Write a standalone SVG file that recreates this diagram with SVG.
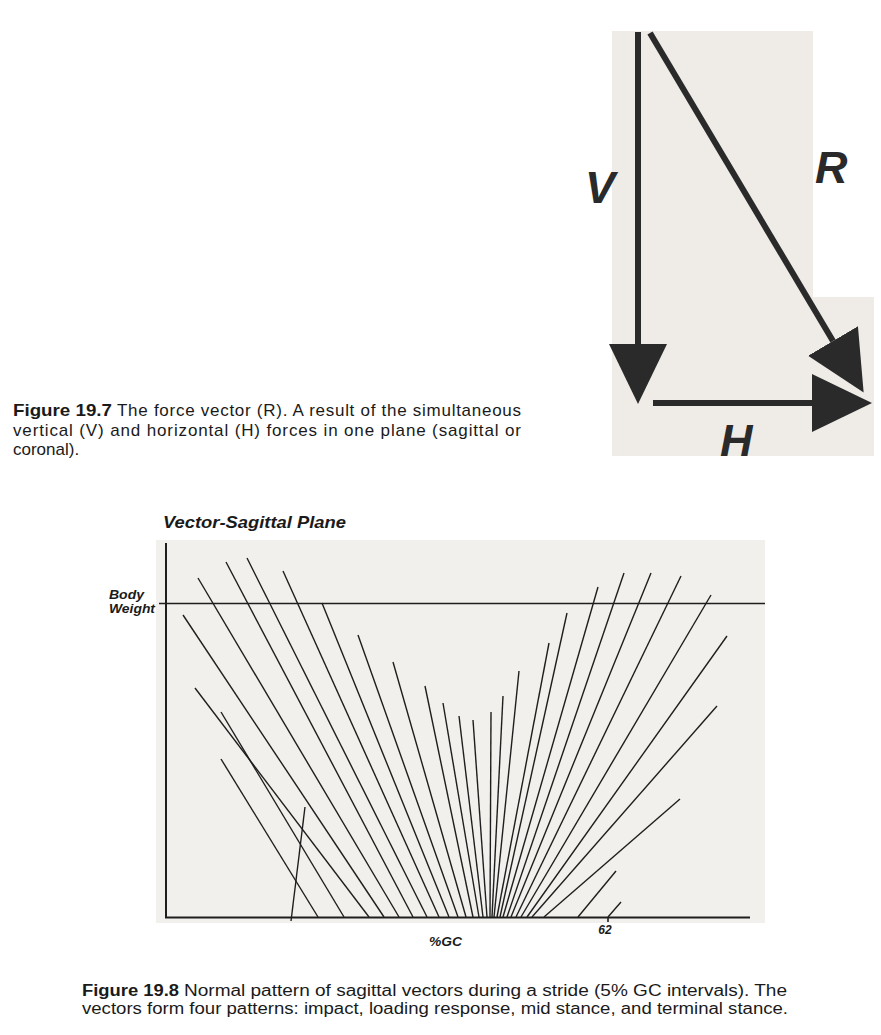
<svg xmlns="http://www.w3.org/2000/svg" width="881" height="1035" viewBox="0 0 881 1035">
<defs>
<style>
.t{font-family:"Liberation Sans",Arial,sans-serif;fill:#1a1a1a}
.b{font-weight:bold}
.bi{font-weight:bold;font-style:italic}
.big{font-family:"Liberation Sans",Arial,sans-serif;font-weight:bold;font-style:italic;font-size:45px;fill:#2a2a2a}
.shaft{stroke:#2a2a2a;stroke-width:6;fill:none;marker-end:url(#head)}
.vec{stroke:#1e1e1e;stroke-width:1.4;fill:none}
.axis{stroke:#1e1e1e;stroke-width:2;fill:none}
</style>
<marker id="head" viewBox="0 0 60 58" refX="0" refY="29" markerWidth="60" markerHeight="58" markerUnits="userSpaceOnUse" orient="auto">
<path d="M0,0 L60,29 L0,58 z" fill="#2a2a2a"/>
</marker>
</defs>
<rect width="881" height="1035" fill="#ffffff"/>

<g id="fig19-7">
<polygon points="612,31 813,31 813,297 874,297 874,456 612,456" fill="#efece8"/>
<g id="connectors-197">
<line class="shaft" x1="638" y1="32" x2="638" y2="344"/>
<line class="shaft" x1="650" y1="33" x2="833" y2="341"/>
<line class="shaft" x1="653" y1="403" x2="812" y2="403"/>
</g>
<text class="big" x="585" y="203">V</text>
<text class="big" x="815" y="183">R</text>
<text class="big" x="720" y="456">H</text>
</g>

<g id="caption-19-7" class="t" font-size="17">
<text class="t b" x="13" y="416" textLength="99" lengthAdjust="spacingAndGlyphs">Figure 19.7</text>
<text class="t" x="117" y="416" textLength="404" lengthAdjust="spacing">The force vector (R). A result of the simultaneous</text>
<text class="t" x="13" y="436" textLength="508" lengthAdjust="spacing">vertical (V) and horizontal (H) forces in one plane (sagittal or</text>
<text class="t" x="13" y="455">coronal).</text>
</g>

<g id="fig19-8">
<rect x="156" y="540" width="609" height="383" fill="#f2f0ec"/>
<text class="t bi" x="163" y="528" font-size="17" textLength="183" lengthAdjust="spacingAndGlyphs">Vector-Sagittal Plane</text>
<text class="t bi" x="109" y="599" font-size="12" textLength="35" lengthAdjust="spacingAndGlyphs">Body</text>
<text class="t bi" x="109" y="613" font-size="12" textLength="46" lengthAdjust="spacingAndGlyphs">Weight</text>
<g id="axes">
<line class="axis" x1="166" y1="543" x2="166" y2="918"/>
<line class="axis" x1="165" y1="917.5" x2="750" y2="917.5"/>
<line x1="159" y1="603.5" x2="765" y2="603.5" stroke="#1e1e1e" stroke-width="1.6"/>
<line x1="608" y1="917" x2="608" y2="922" stroke="#1e1e1e" stroke-width="1.6"/>
</g>
<text class="t bi" x="605" y="934" font-size="12" text-anchor="middle">62</text>
<text class="t bi" x="429" y="946" font-size="13" textLength="33" lengthAdjust="spacingAndGlyphs">%GC</text>
<g id="vectors" class="vec">
<line x1="305" y1="807" x2="291" y2="921"/>
<line x1="221" y1="759" x2="318" y2="917"/>
<line x1="221" y1="712" x2="344" y2="917"/>
<line x1="195" y1="688" x2="369" y2="917"/>
<line x1="183" y1="615" x2="384" y2="917"/>
<line x1="198" y1="578" x2="399" y2="917"/>
<line x1="226" y1="562" x2="413" y2="917"/>
<line x1="247" y1="558" x2="427" y2="917"/>
<line x1="283" y1="571" x2="439" y2="917"/>
<line x1="322" y1="603" x2="449" y2="917"/>
<line x1="358" y1="635" x2="458" y2="917"/>
<line x1="393" y1="662" x2="466" y2="917"/>
<line x1="425" y1="686" x2="473" y2="917"/>
<line x1="443" y1="703" x2="479" y2="917"/>
<line x1="459" y1="716" x2="483" y2="917"/>
<line x1="473" y1="720" x2="487" y2="917"/>
<line x1="491" y1="712" x2="490" y2="917"/>
<line x1="503" y1="696" x2="492" y2="917"/>
<line x1="519" y1="671" x2="494" y2="917"/>
<line x1="549" y1="643" x2="497" y2="917"/>
<line x1="567" y1="613" x2="500" y2="917"/>
<line x1="598" y1="587" x2="503" y2="917"/>
<line x1="624" y1="573" x2="507" y2="917"/>
<line x1="651" y1="573" x2="511" y2="917"/>
<line x1="681" y1="576" x2="516" y2="917"/>
<line x1="711" y1="595" x2="521" y2="917"/>
<line x1="727" y1="636" x2="527" y2="917"/>
<line x1="717" y1="706" x2="532" y2="917"/>
<line x1="680" y1="799" x2="544" y2="917"/>
<line x1="616" y1="871" x2="578" y2="917"/>
<line x1="621" y1="902" x2="608" y2="917"/>
</g>
</g>

<g id="caption-19-8" class="t" font-size="16">
<text class="t b" x="82" y="996" textLength="97" lengthAdjust="spacingAndGlyphs">Figure 19.8</text>
<text class="t" x="184" y="996" textLength="603" lengthAdjust="spacingAndGlyphs">Normal pattern of sagittal vectors during a stride (5% GC intervals). The</text>
<text class="t" x="82" y="1014" textLength="706" lengthAdjust="spacingAndGlyphs">vectors form four patterns: impact, loading response, mid stance, and terminal stance.</text>
</g>
</svg>
